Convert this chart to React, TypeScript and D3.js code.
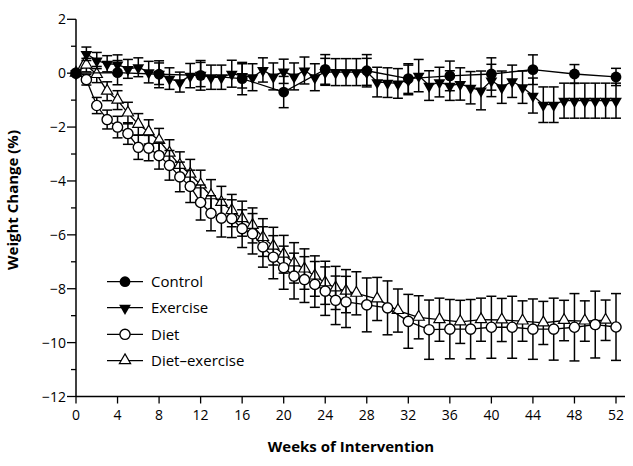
import React from "react";
import * as d3 from "d3";

// ---------- data ----------
const controlWeeks = [0, 4, 8, 12, 16, 20, 24, 28, 32, 36, 40, 44, 48, 52];
const controlValues = [0, 0.02, -0.04, -0.08, -0.2, -0.7, 0.14, 0.09, -0.2, -0.1, -0.03, 0.13, -0.03, -0.14];
const controlSE = [0, 0.45, 0.5, 0.55, 0.6, 0.58, 0.55, 0.6, 0.55, 0.55, 0.6, 0.55, 0.35, 0.32];

const exerciseWeeks = d3.range(0, 53);
const exerciseValues = [
  0, 0.72, 0.47, 0.35, 0.33, 0.16, 0.22, 0.04, -0.02, -0.2, -0.33,
  -0.09, -0.05, -0.15, -0.15, -0.02, -0.1, -0.15, 0.12, -0.12, 0.07,
  -0.12, 0.1, -0.15, 0.05, 0.04, 0.04, 0.04, 0.05, -0.33, -0.35,
  -0.38, -0.25, -0.09, -0.46, -0.33, -0.46, -0.4, -0.54, -0.64, -0.27,
  -0.52, -0.3, -0.52, -0.83, -1.17, -1.17, -1.02, -1.02, -1.02, -1.02,
  -1.02, -1.02,
];
const exerciseSE = [
  0, 0.25, 0.3, 0.3, 0.35, 0.35, 0.35, 0.4, 0.4, 0.4, 0.37,
  0.45, 0.45, 0.45, 0.45, 0.5, 0.45, 0.5, 0.45, 0.5, 0.45,
  0.5, 0.5, 0.5, 0.5, 0.5, 0.5, 0.5, 0.5, 0.55, 0.55,
  0.55, 0.55, 0.6, 0.55, 0.55, 0.55, 0.6, 0.6, 0.72, 0.6,
  0.6, 0.6, 0.6, 0.65, 0.66, 0.66, 0.65, 0.65, 0.65, 0.65,
  0.65, 0.65,
];

const dietWeeks = [
  0, 1, 2, 3, 4, 5, 6, 7, 8, 9, 10, 11, 12, 13, 14, 15, 16, 17, 18, 19, 20,
  21, 22, 23, 24, 25, 26, 28, 30, 32, 34, 36, 38, 40, 42, 44, 46, 48, 50, 52,
];
const dietValues = [
  0, -0.24, -1.2, -1.72, -2.0, -2.24, -2.75, -2.78, -3.06, -3.42, -3.85,
  -4.2, -4.8, -5.2, -5.38, -5.4, -5.77, -5.96, -6.45, -6.83, -7.22,
  -7.53, -7.66, -7.84, -8.09, -8.43, -8.49, -8.6, -8.71, -9.21, -9.52,
  -9.5, -9.5, -9.43, -9.43, -9.5, -9.5, -9.43, -9.33, -9.42,
];
const dietSE = [
  0, 0.2, 0.3, 0.35, 0.4, 0.4, 0.45, 0.47, 0.5, 0.55, 0.55,
  0.6, 0.65, 0.65, 0.7, 0.7, 0.7, 0.75, 0.75, 0.8, 0.8,
  0.85, 0.85, 0.85, 0.9, 0.9, 0.95, 1.0, 1.0, 1.0, 1.1,
  1.1, 1.1, 1.15, 1.15, 1.12, 1.15, 1.25, 1.24, 1.24,
];

const dietExWeeks = [
  0, 1, 2, 3, 4, 5, 6, 7, 8, 9, 10, 11, 12, 13, 14, 15, 16, 17, 18, 19, 20,
  21, 22, 23, 24, 25, 26, 27, 29, 31, 33, 35, 37, 39, 41, 43, 45, 47, 49, 51,
];
const dietExValues = [
  0, 0.3, -0.05, -0.67, -1.0, -1.48, -1.9, -2.18, -2.5, -2.97, -3.42,
  -3.75, -4.15, -4.55, -4.8, -5.1, -5.4, -5.65, -6.1, -6.42, -6.72,
  -7.04, -7.27, -7.53, -7.78, -7.97, -8.09, -8.17, -8.38, -8.81, -9.06,
  -9.15, -9.23, -9.15, -9.16, -9.2, -9.27, -9.18, -9.2, -9.17,
];
const dietExSE = [
  0, 0.25, 0.3, 0.35, 0.35, 0.4, 0.4, 0.45, 0.45, 0.5, 0.5,
  0.55, 0.55, 0.6, 0.6, 0.6, 0.65, 0.65, 0.7, 0.7, 0.7,
  0.75, 0.75, 0.75, 0.8, 0.8, 0.8, 0.8, 0.8, 0.8, 0.8,
  0.8, 0.8, 0.8, 0.8, 0.75, 0.8, 0.75, 0.75, 0.75,
];

const xTicks = [0, 4, 8, 12, 16, 20, 24, 28, 32, 36, 40, 44, 48, 52];
const yMajorTicks = [2, 0, -2, -4, -6, -8, -10, -12];
const yMinorTicks = [1, -1, -3, -5, -7, -9, -11];
const legendLabels = ["Control", "Exercise", "Diet", "Diet\u2013exercise"];

// ---------- layout ----------
const W = 633;
const H = 466;
const FONT = "'Open Sans', 'DejaVu Sans', sans-serif";

const x = d3.scaleLinear().domain([0, 52]).range([76, 616]);
const y = d3.scaleLinear().domain([2, -12]).range([19.3, 396.5]);

type Kind = "filledCircle" | "downTri" | "openCircle" | "upTri";

const triDown = d3.symbol().type(d3.symbolTriangle).size(60)();
const triUp = d3.symbol().type(d3.symbolTriangle).size(55)();

function Marker({ kind, cx, cy }: { kind: Kind; cx: number; cy: number }) {
  if (kind === "filledCircle")
    return <circle cx={cx} cy={cy} r={5.4} fill="#000" />;
  if (kind === "openCircle")
    return <circle cx={cx} cy={cy} r={5.1} fill="#fff" stroke="#000" strokeWidth={1.4} />;
  if (kind === "downTri")
    return (
      <path d={triDown as string} transform={`translate(${cx},${cy + 0.5}) rotate(180)`} fill="#000" />
    );
  return (
    <path
      d={triUp as string}
      transform={`translate(${cx},${cy - 0.3})`}
      fill="#fff"
      stroke="#000"
      strokeWidth={1.2}
    />
  );
}

function Series({
  weeks,
  values,
  se,
  kind,
}: {
  weeks: number[];
  values: number[];
  se: number[];
  kind: Kind;
}) {
  const line = d3
    .line<number>()
    .x((_, i) => x(weeks[i]))
    .y((v) => y(v));
  return (
    <g>
      {values.map((v, i) =>
        se[i] > 0 ? (
          <g key={"e" + i} stroke="#000" strokeWidth={1.5}>
            <line x1={x(weeks[i])} x2={x(weeks[i])} y1={y(v + se[i])} y2={y(v - se[i])} />
            <line x1={x(weeks[i]) - 5} x2={x(weeks[i]) + 5} y1={y(v + se[i])} y2={y(v + se[i])} />
            <line x1={x(weeks[i]) - 5} x2={x(weeks[i]) + 5} y1={y(v - se[i])} y2={y(v - se[i])} />
          </g>
        ) : null
      )}
      <path d={line(values) as string} fill="none" stroke="#000" strokeWidth={1.3} />
      {values.map((v, i) => (
        <Marker key={"m" + i} kind={kind} cx={x(weeks[i])} cy={y(v)} />
      ))}
    </g>
  );
}

export default function App() {
  const legendKinds: Kind[] = ["filledCircle", "downTri", "openCircle", "upTri"];
  const legendY = [281.7, 307.7, 334.3, 360.7];
  return (
    <svg
      width={W}
      height={H}
      style={{ position: "absolute", left: 0, top: 0, background: "#fff" }}
      fontFamily={FONT}
    >
      <rect width={W} height={H} fill="#fff" />
      {/* axes */}
      <line x1={76} x2={76} y1={y(2)} y2={y(-12)} stroke="#000" strokeWidth={1.5} />
      <line x1={76} x2={625} y1={y(-12)} y2={y(-12)} stroke="#000" strokeWidth={1.5} />
      {yMajorTicks.map((t) => (
        <g key={"ym" + t}>
          <line x1={67} x2={76} y1={y(t)} y2={y(t)} stroke="#000" strokeWidth={1.3} />
          <text x={66} y={y(t)} dy="0.36em" textAnchor="end" fontSize={14} fill="#000">
            {t < 0 ? "\u2212" + Math.abs(t) : String(t)}
          </text>
        </g>
      ))}
      {yMinorTicks.map((t) => (
        <line key={"yn" + t} x1={71} x2={76} y1={y(t)} y2={y(t)} stroke="#000" strokeWidth={1.3} />
      ))}
      {xTicks.map((t) => (
        <g key={"x" + t}>
          <line x1={x(t)} x2={x(t)} y1={y(-12)} y2={y(-12) + 7} stroke="#000" strokeWidth={1.3} />
          <text x={x(t)} y={420} textAnchor="middle" fontSize={14} fill="#000">
            {t}
          </text>
        </g>
      ))}
      <text x={351} y={452} textAnchor="middle" fontSize={15} fontWeight="bold" fill="#000">
        Weeks of Intervention
      </text>
      <text
        transform={`translate(18,200) rotate(-90)`}
        textAnchor="middle"
        fontSize={15}
        fontWeight="bold"
        fill="#000"
      >
        Weight Change (%)
      </text>

      {/* series */}
      <Series weeks={dietExWeeks} values={dietExValues} se={dietExSE} kind="upTri" />
      <Series weeks={dietWeeks} values={dietValues} se={dietSE} kind="openCircle" />
      <Series weeks={exerciseWeeks} values={exerciseValues} se={exerciseSE} kind="downTri" />
      <Series weeks={controlWeeks} values={controlValues} se={controlSE} kind="filledCircle" />

      {/* legend */}
      {legendLabels.map((lab, i) => (
        <g key={lab}>
          <line x1={107} x2={143} y1={legendY[i]} y2={legendY[i]} stroke="#000" strokeWidth={1.3} />
          <Marker kind={legendKinds[i]} cx={125} cy={legendY[i]} />
          <text x={151} y={legendY[i]} dy="0.36em" fontSize={15} fill="#000">
            {lab}
          </text>
        </g>
      ))}
    </svg>
  );
}
